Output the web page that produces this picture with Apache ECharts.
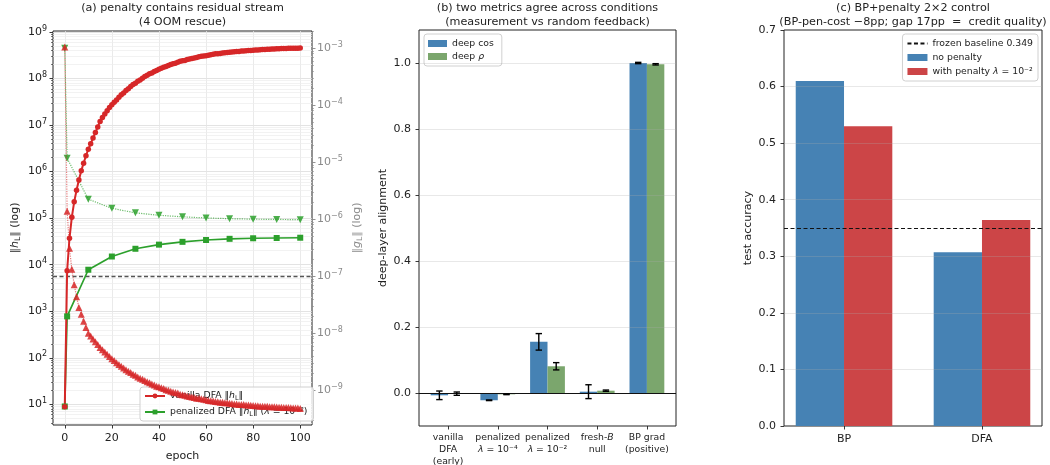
<!DOCTYPE html>
<html><head><meta charset="utf-8">
<script src="https://cdn.jsdelivr.net/npm/echarts@6/dist/echarts.min.js"></script>
<style>html,body{margin:0;padding:0;background:#fff}#c{width:1050px;height:465px}</style>
</head><body><div id="c"></div><script>
// ---------- Panel (a) data ----------
const epochs = Array.from({length: 101}, (_, i) => i);
const sparseEpochs = [0, 1, 10, 20, 30, 40, 50, 60, 70, 80, 90, 100];
const vanillaH = [8.9, 7.4e3, 3.7e4, 1.05e5, 2.24e5, 3.98e5, 6.61e5, 1.05e6, 1.51e6, 2.19e6,
 3.02e6, 3.98e6, 5.25e6, 6.92e6, 9.12e6, 1.20e7, 1.45e7, 1.74e7, 2.04e7, 2.40e7,
 2.75e7, 3.09e7, 3.47e7, 3.98e7, 4.47e7, 4.90e7, 5.50e7, 6.03e7, 6.76e7, 7.41e7,
 7.94e7, 8.71e7, 9.33e7, 1.02e8, 1.10e8, 1.17e8, 1.26e8, 1.32e8, 1.41e8, 1.48e8,
 1.58e8, 1.66e8, 1.74e8, 1.82e8, 1.91e8, 2.00e8, 2.09e8, 2.14e8, 2.24e8, 2.34e8,
 2.40e8, 2.45e8, 2.57e8, 2.63e8, 2.69e8, 2.75e8, 2.82e8, 2.95e8, 3.02e8, 3.06e8,
 3.09e8, 3.16e8, 3.24e8, 3.31e8, 3.39e8, 3.42e8, 3.47e8, 3.55e8, 3.58e8, 3.63e8,
 3.66e8, 3.72e8, 3.75e8, 3.80e8, 3.83e8, 3.89e8, 3.92e8, 3.96e8, 3.99e8, 4.01e8,
 4.07e8, 4.09e8, 4.11e8, 4.16e8, 4.18e8, 4.20e8, 4.26e8, 4.28e8, 4.30e8, 4.32e8,
 4.36e8, 4.38e8, 4.40e8, 4.41e8, 4.43e8, 4.46e8, 4.47e8, 4.48e8, 4.49e8, 4.50e8,
 4.51e8];
const vanillaG = [1.05e-3, 1.38e-6, 3.09e-7, 1.32e-7, 7.08e-8, 4.37e-8, 2.82e-8, 2.14e-8, 1.62e-8, 1.26e-8,
 1.00e-8, 8.91e-9, 7.94e-9, 7.08e-9, 6.31e-9, 5.62e-9, 5.13e-9, 4.68e-9, 4.27e-9, 3.89e-9,
 3.55e-9, 3.31e-9, 3.02e-9, 2.82e-9, 2.63e-9, 2.45e-9, 2.29e-9, 2.14e-9, 2.04e-9, 1.91e-9,
 1.82e-9, 1.70e-9, 1.62e-9, 1.55e-9, 1.48e-9, 1.41e-9, 1.35e-9, 1.29e-9, 1.23e-9, 1.17e-9,
 1.15e-9, 1.10e-9, 1.07e-9, 1.02e-9, 1.00e-9, 9.55e-10, 9.33e-10, 9.12e-10, 8.91e-10, 8.51e-10,
 8.32e-10, 8.13e-10, 7.94e-10, 7.76e-10, 7.59e-10, 7.41e-10, 7.24e-10, 7.20e-10, 7.08e-10, 6.92e-10,
 6.76e-10, 6.61e-10, 6.55e-10, 6.46e-10, 6.31e-10, 6.28e-10, 6.17e-10, 6.13e-10, 6.03e-10, 6.00e-10,
 5.89e-10, 5.86e-10, 5.75e-10, 5.72e-10, 5.62e-10, 5.60e-10, 5.58e-10, 5.50e-10, 5.48e-10, 5.46e-10,
 5.37e-10, 5.35e-10, 5.33e-10, 5.25e-10, 5.23e-10, 5.21e-10, 5.20e-10, 5.13e-10, 5.11e-10, 5.10e-10,
 5.08e-10, 5.01e-10, 5.00e-10, 4.99e-10, 4.98e-10, 4.97e-10, 4.90e-10, 4.89e-10, 4.88e-10, 4.87e-10,
 4.79e-10];
const penalH = [9.0, 776, 7.8e3, 1.5e4, 2.2e4, 2.7e4, 3.1e4, 3.4e4, 3.6e4, 3.7e4, 3.75e4, 3.8e4];
const penalG = [1.0e-3, 1.17e-5, 2.24e-6, 1.55e-6, 1.29e-6, 1.17e-6, 1.10e-6, 1.05e-6, 1.02e-6, 1.0e-6, 9.9e-7, 9.8e-7];
const gReference = 1e-7;
const hTicks = [1e1, 1e2, 1e3, 1e4, 1e5, 1e6, 1e7, 1e8, 1e9];
const gTicks = [1e-9, 1e-8, 1e-7, 1e-6, 1e-5, 1e-4, 1e-3];
const epochTicks = [0, 20, 40, 60, 80, 100];

// ---------- Panel (b) data ----------
const conditions = ['vanilla\nDFA\n(early)', 'penalized\nλ = 10⁻⁴', 'penalized\nλ = 10⁻²', 'fresh-B\nnull', 'BP grad\n(positive)'];
const deepCos    = [-0.007, -0.022, 0.155, 0.004, 1.000];
const deepCosErr = [0.013, 0.001, 0.025, 0.021, 0.002];
const deepRho    = [-0.002, -0.004, 0.081, 0.007, 0.996];
const deepRhoErr = [0.005, 0.001, 0.011, 0.002, 0.002];
const alignTicks = [0, 0.2, 0.4, 0.6, 0.8, 1.0];

// ---------- Panel (c) data ----------
const methods = ['BP', 'DFA'];
const noPenalty = [0.610, 0.307];
const withPenalty = [0.530, 0.364];
const frozenBaseline = 0.349;
const accTicks = [0.1, 0.2, 0.3, 0.4, 0.5, 0.6];

// ---------- helpers ----------
const FONT = 'DejaVu Sans';
const INK = '#222';
const GREY = '#8a8a8a';
const TICK_FS = 11;
function pow10Label(v) {
  const l = Math.log10(v), e = Math.round(l);
  if (Math.abs(l - e) > 1e-6) return '';
  return '10{sup|' + String(e).replace('-', '−') + '}';
}
function supRich(color) {
  return {sup: {fontSize: 8, fontFamily: FONT, verticalAlign: 'top', lineHeight: 8, color: color}};
}
function minorTicks(lo, hi) {
  const out = [];
  for (let e = Math.floor(Math.log10(lo)); e <= Math.ceil(Math.log10(hi)); e++) {
    for (let k = 2; k <= 9; k++) {
      const v = k * Math.pow(10, e);
      if (v >= lo && v <= hi) out.push(v);
    }
  }
  return out;
}
const H_MIN = 3.6, H_MAX = 1.05e9, G_MIN = 2.45e-10, G_MAX = 2.0e-3;
const hMinor = minorTicks(H_MIN, H_MAX);
const gMinor = minorTicks(G_MIN, G_MAX);

const red = '#d62728', green = '#2ca02c';
const blue = '#4682b4', sage = '#7ba66d', brick = '#cc4547';

function richCond(i) {
  return conditions[i].replace('λ', '{i|λ}').replace('fresh-B', 'fresh-{i|B}');
}
const mathRich = (fs, lh, color) => ({
  i: {fontStyle: 'italic', fontSize: fs, fontFamily: FONT, lineHeight: lh, color: color || INK},
  s: {fontSize: fs * 0.7, fontFamily: FONT, verticalAlign: 'bottom', lineHeight: lh * 0.55, color: color || INK}
});

function errBar(off) {
  return function (params, api) {
    const x = api.value(0) + off, m = api.value(1), e = api.value(2);
    const top = api.coord([x, m + e]), bot = api.coord([x, m - e]);
    const cap = 3.2;
    const st = {stroke: '#000', lineWidth: 1.4};
    return {type: 'group', children: [
      {type: 'line', shape: {x1: top[0], y1: top[1], x2: bot[0], y2: bot[1]}, style: st},
      {type: 'line', shape: {x1: top[0] - cap, y1: top[1], x2: top[0] + cap, y2: top[1]}, style: st},
      {type: 'line', shape: {x1: bot[0] - cap, y1: bot[1], x2: bot[0] + cap, y2: bot[1]}, style: st}
    ]};
  };
}

const tickStyle = {show: true, inside: false, length: 3.5, lineStyle: {color: INK, width: 0.9}};
const baseAxisLine = {show: false, onZero: false};

const legendTextA = {
  vanillaH: 'vanilla DFA ‖{i|h}{s|L}‖',
  penalH: 'penalized DFA ‖{i|h}{s|L}‖ ({i|λ} = 10⁻²)'
};
const legendTextB = {deepCos: 'deep cos', deepRho: 'deep {i|ρ}'};
const legendTextC = {baseline: 'frozen baseline 0.349', noPen: 'no penalty', withPen: 'with penalty {i|λ} = 10⁻²'};
const TITLE_FONT = '11.2px "DejaVu Sans"';
const gridCommon = {show: true, borderColor: INK, borderWidth: 1, backgroundColor: 'transparent', containLabel: false, outerBoundsMode: 'none'};

const chart = echarts.init(document.getElementById('c'), null, {renderer: 'canvas'});
const option = {
  animation: false,
  backgroundColor: '#fff',
  textStyle: {fontFamily: FONT, color: INK},
  grid: [
    Object.assign({left: 53, right: 738, top: 31, bottom: 40}, gridCommon),
    Object.assign({left: 419, right: 374, top: 30, bottom: 39}, gridCommon),
    Object.assign({left: 784, right: 8, top: 30, bottom: 39}, gridCommon)
  ],
  graphic: [
    {type: 'text', x: 182.5, y: 1, z: 10, style: {text: '(a) penalty contains residual stream\n(4 OOM rescue)', align: 'center', verticalAlign: 'top', font: TITLE_FONT, lineHeight: 14, fill: INK}},
    {type: 'text', x: 547.5, y: 1, z: 10, style: {text: '(b) two metrics agree across conditions\n(measurement vs random feedback)', align: 'center', verticalAlign: 'top', font: TITLE_FONT, lineHeight: 14, fill: INK}},
    {type: 'text', x: 913, y: 1, z: 10, style: {text: '(c) BP+penalty 2×2 control\n(BP-pen-cost −8pp; gap 17pp  =  credit quality)', align: 'center', verticalAlign: 'top', font: TITLE_FONT, lineHeight: 14, fill: INK}}
  ],
  legend: [
    {data: ['vanillaH', 'penalH'], left: 140, top: 387, orient: 'vertical', itemWidth: 20, itemHeight: 6, itemGap: 4,
     formatter: n => legendTextA[n], textStyle: {fontSize: 9.3, fontFamily: FONT, color: INK, lineHeight: 12, rich: mathRich(9.3, 12)},
     backgroundColor: 'rgba(255,255,255,0.8)', borderColor: '#d0d0d0', borderWidth: 1, borderRadius: 3, padding: [3, 6, 3, 4], z: 4},
    {data: [{name: 'deepCos', icon: 'rect'}, {name: 'deepRho', icon: 'rect'}], left: 424, top: 34, orient: 'vertical', itemWidth: 19, itemHeight: 7, itemGap: 2,
     formatter: n => legendTextB[n], textStyle: {fontSize: 9.3, fontFamily: FONT, color: INK, lineHeight: 11, rich: mathRich(9.3, 11)},
     backgroundColor: 'rgba(255,255,255,0.8)', borderColor: '#d0d0d0', borderWidth: 1, borderRadius: 3, padding: [4, 8, 4, 4]},
    {data: [{name: 'baseline', itemStyle: {opacity: 0}}, {name: 'noPen', icon: 'rect'}, {name: 'withPen', icon: 'rect'}], right: 12, top: 34, orient: 'vertical', itemWidth: 20, itemHeight: 7, itemGap: 3,
     formatter: n => legendTextC[n], textStyle: {fontSize: 9.3, fontFamily: FONT, color: INK, lineHeight: 11, rich: mathRich(9.3, 11)},
     backgroundColor: 'rgba(255,255,255,0.8)', borderColor: '#d0d0d0', borderWidth: 1, borderRadius: 3, padding: [4, 5, 4, 4]}
  ],
  xAxis: [
    {gridIndex: 0, type: 'value', min: -5, max: 105, splitNumber: 5, axisLine: baseAxisLine,
     axisTick: Object.assign({customValues: epochTicks}, tickStyle),
     axisLabel: {customValues: epochTicks, fontSize: TICK_FS, color: INK, margin: 8},
     splitLine: {show: true, lineStyle: {color: '#e4e4e4', width: 0.8}},
     name: 'epoch', nameLocation: 'middle', nameGap: 26, nameTextStyle: {fontSize: TICK_FS, color: INK}},
    {gridIndex: 1, type: 'value', min: -0.585, max: 4.585, axisLine: baseAxisLine,
     axisTick: Object.assign({customValues: [0, 1, 2, 3, 4]}, tickStyle),
     axisLabel: {customValues: [0, 1, 2, 3, 4], formatter: v => richCond(Math.round(v)), fontSize: 9.3, lineHeight: 12, color: INK, margin: 6,
       rich: {i: {fontStyle: 'italic', fontSize: 9.3, lineHeight: 12, fontFamily: FONT, color: INK}}},
     splitLine: {show: false}},
    {gridIndex: 2, type: 'value', min: -0.435, max: 1.435, axisLine: baseAxisLine,
     axisTick: Object.assign({customValues: [0, 1]}, tickStyle),
     axisLabel: {customValues: [0, 1], formatter: v => methods[Math.round(v)], fontSize: TICK_FS, color: INK, margin: 8},
     splitLine: {show: false}}
  ],
  yAxis: [
    {gridIndex: 0, type: 'log', min: H_MIN, max: H_MAX, position: 'left', axisLine: baseAxisLine,
     axisTick: Object.assign({customValues: hTicks}, tickStyle),
     axisLabel: {customValues: hTicks, formatter: pow10Label, fontSize: TICK_FS, lineHeight: 15, color: INK, margin: 6, rich: supRich(INK)},
     splitLine: {show: true, lineStyle: {color: '#dcdcdc', width: 0.8}},
     name: '‖{i|h}{s|L}‖ (log)', nameLocation: 'middle', nameGap: 31,
     nameTextStyle: {fontSize: TICK_FS, color: INK, lineHeight: 14, rich: mathRich(TICK_FS, 14)}},
    {gridIndex: 0, type: 'log', min: G_MIN, max: G_MAX, position: 'right', axisLine: baseAxisLine,
     axisTick: {show: true, customValues: gTicks, length: 3.5, lineStyle: {color: '#888', width: 0.9}},
     axisLabel: {customValues: gTicks, formatter: pow10Label, fontSize: TICK_FS, lineHeight: 15, color: GREY, margin: 5, rich: supRich(GREY)},
     splitLine: {show: false},
     name: '‖{i|g}{s|L}‖ (log)', nameLocation: 'middle', nameGap: 38,
     nameTextStyle: {fontSize: TICK_FS, color: GREY, lineHeight: 14, rich: mathRich(TICK_FS, 14, GREY)}},
    {gridIndex: 0, type: 'log', min: H_MIN, max: H_MAX, position: 'left', axisLine: baseAxisLine,
     axisTick: {show: true, customValues: hMinor, length: 2, lineStyle: {color: INK, width: 0.6}},
     axisLabel: {show: false}, splitLine: {show: false}},
    {gridIndex: 0, type: 'log', min: G_MIN, max: G_MAX, position: 'right', axisLine: baseAxisLine,
     axisTick: {show: true, customValues: gMinor, length: 2, lineStyle: {color: '#888', width: 0.6}},
     axisLabel: {show: false}, splitLine: {show: false}},
    {gridIndex: 1, type: 'value', min: -0.1, max: 1.1, axisLine: baseAxisLine,
     axisTick: Object.assign({customValues: alignTicks}, tickStyle),
     axisLabel: {customValues: alignTicks, formatter: v => v.toFixed(1), fontSize: TICK_FS, color: INK, margin: 8},
     splitLine: {show: false},
     name: 'deep-layer alignment', nameLocation: 'middle', nameGap: 30, nameTextStyle: {fontSize: TICK_FS, color: INK}},
    {gridIndex: 2, type: 'value', min: 0, max: 0.7, interval: 0.1, axisLine: baseAxisLine,
     axisTick: tickStyle,
     axisLabel: {formatter: v => v.toFixed(1), fontSize: TICK_FS, color: INK, margin: 8},
     splitLine: {show: false},
     name: 'test accuracy', nameLocation: 'middle', nameGap: 30, nameTextStyle: {fontSize: TICK_FS, color: INK}}
  ],
  series: [
    // (a) minor gridlines
    {type: 'line', xAxisIndex: 0, yAxisIndex: 0, data: [], silent: true,
     markLine: {z: 1, silent: true, symbol: 'none', precision: 12, animation: false, label: {show: false},
       lineStyle: {color: '#ececec', width: 0.7, type: 'solid'}, data: hMinor.map(v => ({yAxis: v}))}},
    {name: 'penalG', type: 'line', xAxisIndex: 0, yAxisIndex: 1, z: 3,
     data: penalG.map((v, i) => [sparseEpochs[i], v]),
     symbol: 'triangle', symbolRotate: 180, symbolSize: 7,
     lineStyle: {color: green, width: 1.2, type: 'dotted', opacity: 0.7},
     itemStyle: {color: green, opacity: 0.85}},
    {name: 'penalH', type: 'line', xAxisIndex: 0, yAxisIndex: 0, z: 3,
     data: penalH.map((v, i) => [sparseEpochs[i], v]),
     symbol: 'rect', symbolSize: 6,
     lineStyle: {color: green, width: 1.7}, itemStyle: {color: green}},
    {name: 'vanillaH', type: 'line', xAxisIndex: 0, yAxisIndex: 0, z: 3,
     data: vanillaH.map((v, i) => [epochs[i], v]),
     symbol: 'circle', symbolSize: 5.5, showAllSymbol: true,
     lineStyle: {color: red, width: 2}, itemStyle: {color: red}},
    {name: 'vanillaG', type: 'line', xAxisIndex: 0, yAxisIndex: 1, z: 5,
     data: vanillaG.map((v, i) => [epochs[i], v]),
     symbol: 'triangle', symbolSize: 7, showAllSymbol: true,
     lineStyle: {color: red, width: 1.2, type: 'dotted', opacity: 0.6},
     itemStyle: {color: red, opacity: 0.85},
     markLine: {z: 3, silent: true, symbol: 'none', precision: 12, animation: false, label: {show: false},
       lineStyle: {color: '#555', width: 1.3, type: [4, 2.5], opacity: 1}, data: [{yAxis: gReference}]}},

    // (b)
    {name: 'deepCos', type: 'bar', xAxisIndex: 1, yAxisIndex: 4, barWidth: '35%', barGap: '0%',
     data: deepCos.map((v, i) => [i, v]), itemStyle: {color: blue}},
    {name: 'deepRho', type: 'bar', xAxisIndex: 1, yAxisIndex: 4, barWidth: '35%', barGap: '0%',
     data: deepRho.map((v, i) => [i, v]), itemStyle: {color: sage},
     markLine: {silent: true, symbol: 'none', precision: 6, animation: false, label: {show: false}, z: 5,
       lineStyle: {color: 'rgba(170,170,170,0.35)', width: 0.8, type: 'solid'},
       data: alignTicks.slice(1).map(v => ({yAxis: v}))}},
    {type: 'line', xAxisIndex: 1, yAxisIndex: 4, data: [], silent: true,
     markLine: {z: 6, silent: true, symbol: 'none', animation: false, label: {show: false},
       lineStyle: {color: '#111', width: 1, type: 'solid'}, data: [{yAxis: 0}]}},
    {type: 'custom', xAxisIndex: 1, yAxisIndex: 4, z: 8, renderItem: errBar(-0.175),
     data: deepCos.map((v, i) => [i, v, deepCosErr[i]])},
    {type: 'custom', xAxisIndex: 1, yAxisIndex: 4, z: 8, renderItem: errBar(0.175),
     data: deepRho.map((v, i) => [i, v, deepRhoErr[i]])},

    // (c)
    {name: 'noPen', type: 'bar', xAxisIndex: 2, yAxisIndex: 5, barWidth: '35%', barGap: '0%',
     data: noPenalty.map((v, i) => [i, v]), itemStyle: {color: blue}},
    {name: 'withPen', type: 'bar', xAxisIndex: 2, yAxisIndex: 5, barWidth: '35%', barGap: '0%',
     data: withPenalty.map((v, i) => [i, v]), itemStyle: {color: brick},
     markLine: {silent: true, symbol: 'none', precision: 6, animation: false, label: {show: false}, z: 5,
       lineStyle: {color: 'rgba(170,170,170,0.35)', width: 0.8, type: 'solid'},
       data: accTicks.map(v => ({yAxis: v}))}},
    {name: 'baseline', type: 'line', xAxisIndex: 2, yAxisIndex: 5, data: [], symbol: 'none',
     lineStyle: {color: '#111', width: 1.2, type: [4, 2.5]}, itemStyle: {color: '#111'},
     markLine: {z: 6, silent: true, symbol: 'none', precision: 6, animation: false, label: {show: false},
       lineStyle: {color: '#111', width: 1.2, type: [4, 2.5]}, data: [{yAxis: frozenBaseline}]}}
  ]
};
chart.setOption(option);
</script></body></html>
